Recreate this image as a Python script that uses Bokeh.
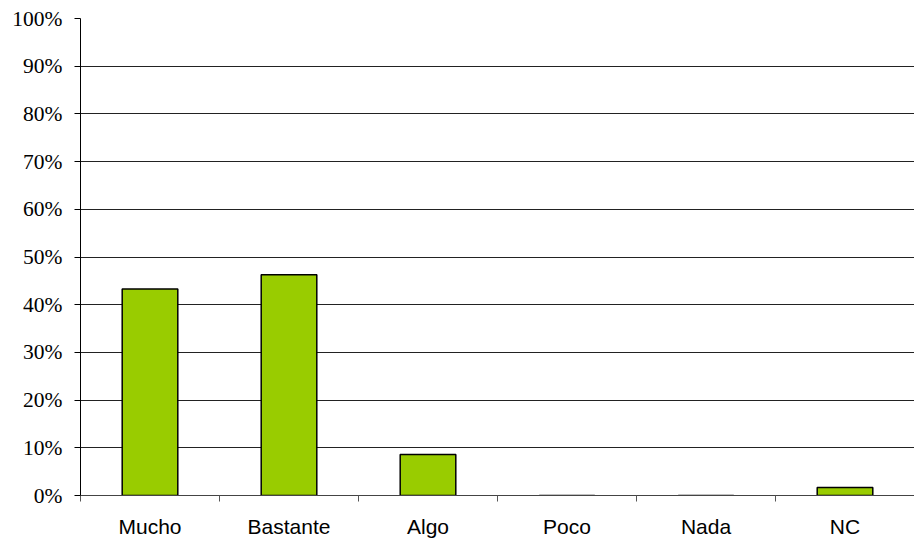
from bokeh.plotting import figure
from bokeh.models import Range1d, FixedTicker, NumeralTickFormatter, ColumnDataSource
from bokeh.embed import file_html
from bokeh.resources import INLINE

categories = ["Mucho", "Bastante", "Algo", "Poco", "Nada", "NC"]
values = [0.433, 0.463, 0.086, 0.0, 0.0, 0.017]
y_ticks = [0.0, 0.1, 0.2, 0.3, 0.4, 0.5, 0.6, 0.7, 0.8, 0.9, 1.0]

n = len(categories)
centers = [i + 0.5 for i in range(n)]
bounds = [float(i) for i in range(n + 1)]

src = ColumnDataSource(dict(x=centers, top=values, cat=categories))

p = figure(width=914, height=540, output_backend="svg", toolbar_location=None,
           x_range=Range1d(0, n), y_range=Range1d(0, 1),
           min_border_left=80, min_border_right=0, min_border_top=18, min_border_bottom=43)
p.outline_line_color = None
p.background_fill_color = "white"
p.border_fill_color = "white"

p.vbar(x="x", top="top", width=0.4, bottom=0, source=src,
       fill_color="#99CC00", line_color="black", line_width=1.5)

# x axis: labels at category centres, ticks at boundaries
xa = p.xaxis[0]
xa.ticker = FixedTicker(ticks=centers, minor_ticks=bounds)
xa.major_label_overrides = {c: lab for c, lab in zip(centers, categories)}
xa.major_tick_line_color = None
xa.major_tick_out = 0
xa.major_tick_in = 0
xa.minor_tick_out = 6
xa.minor_tick_in = 0
xa.minor_tick_line_color = "#555555"
xa.axis_line_color = "#444444"
xa.major_label_text_font = "Liberation Sans"
xa.major_label_text_font_size = "21px"
xa.major_label_text_color = "black"
xa.major_label_standoff = 13

ya = p.yaxis[0]
ya.ticker = FixedTicker(ticks=y_ticks)
ya.formatter = NumeralTickFormatter(format="0%")
ya.major_tick_out = 6
ya.major_tick_in = 0
ya.minor_tick_line_color = None
ya.axis_line_color = "black"
ya.major_tick_line_color = "black"
ya.major_label_text_font = "Liberation Serif"
ya.major_label_text_font_size = "21.5px"
ya.major_label_text_color = "black"
ya.major_label_standoff = 12

p.xgrid.grid_line_color = None
p.ygrid.ticker = FixedTicker(ticks=y_ticks)
p.ygrid.grid_line_color = "#222222"
p.ygrid.grid_line_width = 1

open("out.html", "w").write(file_html(p, INLINE))
